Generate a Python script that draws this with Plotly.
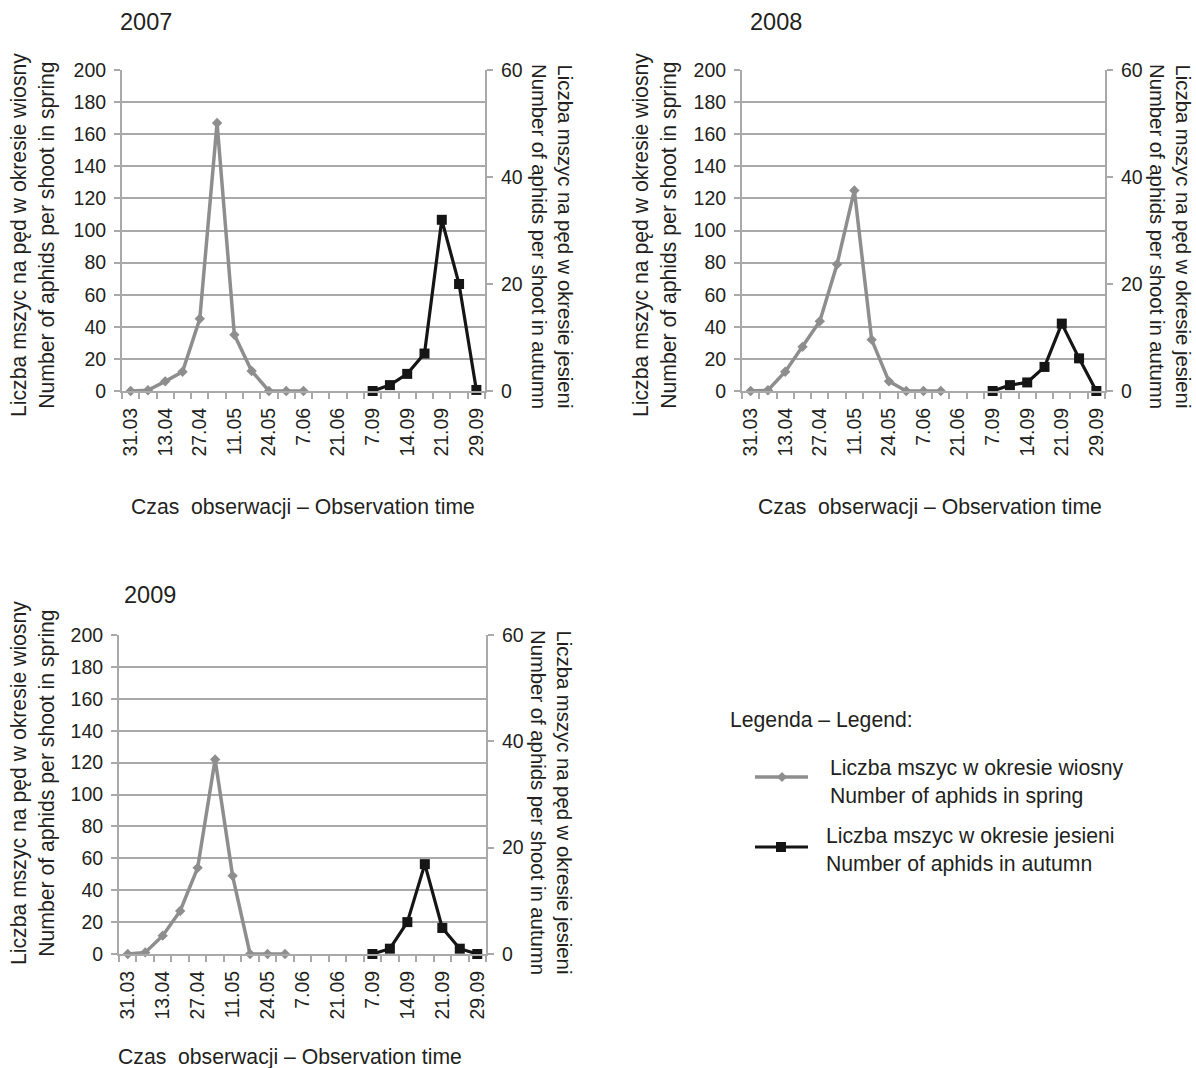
import plotly.graph_objects as go

# ---------------- data ----------------
TICK_LABELS = ["31.03", "13.04", "27.04", "11.05", "24.05", "7.06",
               "21.06", "7.09", "14.09", "21.09", "29.09"]
N_SLOTS = 21  # observation slots (labels shown on every second slot)

YEARS = ["2007", "2008", "2009"]

# spring (left axis, 0-200), None = no observation
SPRING_2007 = [0, 0.5, 6, 12, 45, 167, 35, 12.5, 0, 0, 0,
               None, None, None, None, None, None, None, None, None, None]
SPRING_2008 = [0, 0.5, 12, 27.5, 43.5, 79, 125, 32, 6, 0, 0, 0,
               None, None, None, None, None, None, None, None, None]
SPRING_2009 = [0, 1, 11.5, 27, 54, 122, 49, 0, 0, 0,
               None, None, None, None, None, None, None, None, None, None, None]

# autumn (right axis, 0-60)
AUTUMN_2007 = [None] * 14 + [0, 1.1, 3.2, 7.0, 32, 20, 0.2]
AUTUMN_2008 = [None] * 14 + [0, 1.1, 1.6, 4.5, 12.6, 6.1, 0]
AUTUMN_2009 = [None] * 14 + [0, 1.0, 6.0, 16.9, 4.9, 1.0, 0]

SPRING = [SPRING_2007, SPRING_2008, SPRING_2009]
AUTUMN = [AUTUMN_2007, AUTUMN_2008, AUTUMN_2009]

LEFT_TITLE = "Liczba mszyc na pęd w okresie wiosny<br>Number of aphids per shoot in spring"
RIGHT_TITLE = "Liczba mszyc na pęd w okresie jesieni<br>Number of aphids per shoot in autumn"
X_TITLE = "Czas\u00a0 obserwacji – Observation time"
LEGEND_TITLE = "Legenda – Legend:"
LEGEND_SPRING = "Liczba mszyc w okresie wiosny<br>Number of aphids in spring"
LEGEND_AUTUMN = "Liczba mszyc w okresie jesieni<br>Number of aphids in autumn"

# ---------------- styling ----------------
W, H = 1196, 1068
FONT = "Liberation Sans, Arial, sans-serif"
TXT = "#231f20"
GRID = "#a9a9a9"
SPRING_C = "#8e8e8e"
AUTUMN_C = "#151515"
FS_TICK = 19.5
FS_TXT = 21.2
FS_RT = 20.3


def px(x):
    return x / W


def py(y):
    return 1 - y / H


# panel geometry in pixels: (left, right, top, bottom)
PANELS = [(122, 485, 70, 391), (742, 1105, 70, 391), (119, 486, 635, 954)]
TITLE_POS = [(118, 22), (748, 22), (122, 595)]
LEFT_T_POS = [(33, 235), (655, 235), (33, 783)]
RIGHT_T_POS = [(552, 236), (1170, 236), (551, 802)]
XT_POS = [(303, 507), (930, 507), (290, 1057)]

x_idx = list(range(N_SLOTS))
tickvals = list(range(0, N_SLOTS, 2))

fig = go.Figure()
layout = dict(
    template="none",
    width=W, height=H, autosize=False,
    margin=dict(l=0, r=0, t=0, b=0, pad=0),
    paper_bgcolor="white", plot_bgcolor="white",
    font=dict(family=FONT, size=FS_TXT, color=TXT),
    showlegend=False,
)
annotations = []
shapes = []

for k in range(3):
    xa = "x" if k == 0 else f"x{k+1}"
    ya = "y" if k == 0 else f"y{2*k+1}"
    yb = f"y{2*k+2}"
    l, r, t, b = PANELS[k]

    fig.add_trace(go.Scatter(
        x=x_idx, y=SPRING[k], xaxis=xa, yaxis=ya, mode="lines+markers",
        line=dict(color=SPRING_C, width=3.5),
        marker=dict(symbol="diamond", size=8, color=SPRING_C),
        cliponaxis=False, connectgaps=False, name="spring"))
    fig.add_trace(go.Scatter(
        x=x_idx, y=AUTUMN[k], xaxis=xa, yaxis=yb, mode="lines+markers",
        line=dict(color=AUTUMN_C, width=3.2),
        marker=dict(symbol="square", size=10, color=AUTUMN_C),
        cliponaxis=False, connectgaps=False, name="autumn"))

    xkey = "xaxis" if k == 0 else f"xaxis{k+1}"
    ykey = "yaxis" if k == 0 else f"yaxis{2*k+1}"
    y2key = f"yaxis{2*k+2}"

    layout[xkey] = dict(
        domain=[px(l), px(r)], anchor=ya, range=[-0.5, N_SLOTS - 0.5],
        automargin=False,
        tickmode="array", tickvals=tickvals, ticktext=TICK_LABELS,
        tickangle=-90, ticks="", ticklabelstandoff=7,
        showgrid=False, zeroline=False,
        showline=True, linecolor=GRID, linewidth=2,
        tickfont=dict(size=FS_TICK, color=TXT),
        minor=dict(tickmode="array",
                   tickvals=[i - 0.5 for i in range(N_SLOTS + 1)],
                   ticks="outside", ticklen=6, tickwidth=1.5,
                   tickcolor=GRID, showgrid=False),
    )
    layout[ykey] = dict(
        domain=[py(b), py(t)], anchor=xa, range=[0, 200],
        automargin=False,
        tickmode="linear", tick0=0, dtick=20,
        ticks="outside", ticklen=6, tickwidth=1.5, tickcolor=GRID,
        ticklabelstandoff=4,
        showgrid=True, gridcolor=GRID, gridwidth=1.6,
        zeroline=False, showline=True, linecolor=GRID, linewidth=2,
        tickfont=dict(size=FS_TICK, color=TXT),
    )
    layout[y2key] = dict(
        overlaying=ya, anchor=xa, side="right", range=[0, 60],
        automargin=False,
        tickmode="array", tickvals=[0, 20, 40, 60],
        ticks="outside", ticklen=6, tickwidth=1.5, tickcolor=GRID,
        ticklabelstandoff=4,
        showgrid=False, zeroline=False,
        showline=True, linecolor=GRID, linewidth=2,
        tickfont=dict(size=FS_TICK, color=TXT),
    )

    tx, ty = TITLE_POS[k]
    annotations.append(dict(text=YEARS[k], x=px(tx), y=py(ty), xref="paper", yref="paper",
                            xanchor="left", yanchor="middle", showarrow=False,
                            font=dict(size=23.5, color=TXT)))
    lx, ly = LEFT_T_POS[k]
    annotations.append(dict(text=LEFT_TITLE, x=px(lx), y=py(ly), xref="paper", yref="paper",
                            xanchor="center", yanchor="middle", textangle=-90,
                            showarrow=False, font=dict(size=FS_TXT, color=TXT)))
    rx, ry = RIGHT_T_POS[k]
    annotations.append(dict(text=RIGHT_TITLE, x=px(rx), y=py(ry), xref="paper", yref="paper",
                            xanchor="center", yanchor="middle", textangle=90,
                            showarrow=False, font=dict(size=FS_RT, color=TXT)))
    xx, xy = XT_POS[k]
    annotations.append(dict(text=X_TITLE, x=px(xx), y=py(xy), xref="paper", yref="paper",
                            xanchor="center", yanchor="middle",
                            showarrow=False, font=dict(size=FS_TXT, color=TXT)))

# ---------------- legend (drawn) ----------------
annotations.append(dict(text=LEGEND_TITLE, x=px(728), y=py(720), xref="paper", yref="paper",
                        xanchor="left", yanchor="middle", showarrow=False,
                        font=dict(size=FS_TXT, color=TXT)))
annotations.append(dict(text=LEGEND_SPRING, x=px(828), y=py(782), xref="paper", yref="paper",
                        xanchor="left", yanchor="middle", align="left", showarrow=False,
                        font=dict(size=FS_TXT, color=TXT)))
annotations.append(dict(text=LEGEND_AUTUMN, x=px(824), y=py(850), xref="paper", yref="paper",
                        xanchor="left", yanchor="middle", align="left", showarrow=False,
                        font=dict(size=FS_TXT, color=TXT)))

shapes.append(dict(type="line", xref="paper", yref="paper",
                   x0=px(755), x1=px(808), y0=py(777), y1=py(777),
                   line=dict(color=SPRING_C, width=3.5)))
shapes.append(dict(type="path", xref="paper", yref="paper",
                   path=f"M {px(782)},{py(772)} L {px(787)},{py(777)} L {px(782)},{py(782)} L {px(777)},{py(777)} Z",
                   fillcolor=SPRING_C, line=dict(color=SPRING_C, width=0)))
shapes.append(dict(type="line", xref="paper", yref="paper",
                   x0=px(755), x1=px(808), y0=py(847), y1=py(847),
                   line=dict(color=AUTUMN_C, width=3.2)))
shapes.append(dict(type="rect", xref="paper", yref="paper",
                   x0=px(776), x1=px(786), y0=py(852), y1=py(842),
                   fillcolor=AUTUMN_C, line=dict(color=AUTUMN_C, width=0)))

layout["annotations"] = annotations
layout["shapes"] = shapes
fig.update_layout(**layout)

fig.write_html("out.html",
               config={"displayModeBar": False},
               post_script="document.body.style.margin='0';document.body.style.overflow='hidden';")
